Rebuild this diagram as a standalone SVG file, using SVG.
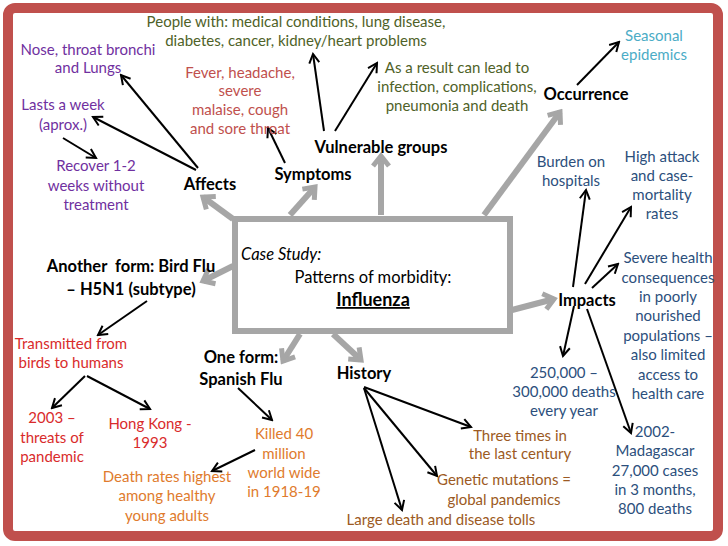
<svg xmlns="http://www.w3.org/2000/svg" width="728" height="546" viewBox="0 0 728 546">
<style>
text{font-family:Lato,"Open Sans","Liberation Sans",sans-serif;font-size:15px;text-anchor:middle}
.b{font-weight:bold;font-size:16.5px;fill:#000}
.ol{fill:#4f6228}.pu{fill:#7030a0}.sy{fill:#c0504d}.lb{fill:#4bacc6}.db{fill:#2c4f7c}.rd{fill:#d92b2b}.or{fill:#e07b2d}.br{fill:#9c5a23}
.k{stroke:#000;stroke-width:2;fill:none;marker-end:url(#ak)}
.g{stroke:#a6a6a6;stroke-width:6;fill:none;marker-end:url(#ag)}
</style>
<defs>
<marker id="ak" markerUnits="userSpaceOnUse" viewBox="-12 -8 14 16" markerWidth="14" markerHeight="16" refX="0" refY="0" orient="auto"><path d="M-9,-5 L0,0 L-9,5" fill="none" stroke="#000" stroke-width="2"/></marker>
<marker id="ag" markerUnits="userSpaceOnUse" viewBox="-16 -12 20 24" markerWidth="20" markerHeight="24" refX="0" refY="0" orient="auto"><path d="M-10,-8 L0,0 L-10,8" fill="none" stroke="#a6a6a6" stroke-width="5"/></marker>
</defs>
<rect x="0" y="0" width="728" height="546" fill="#fff"/>
<rect x="8" y="8" width="710" height="528" rx="7" fill="#fff" stroke="#c0504d" stroke-width="10"/>
<g id="connectors">
<path class="g" d="M233,219 L203,197"/>
<path class="g" d="M290,215 L315,187"/>
<path class="g" d="M381,215 L381,156"/>
<path class="g" d="M484,215 L560,112"/>
<path class="g" d="M233,266 L203,281"/>
<path class="g" d="M300,334 L283,361"/>
<path class="g" d="M333,334 L361,360"/>
<path class="g" d="M512,310 L554,299"/>
<path class="k" d="M198,168 L121,75"/>
<path class="k" d="M196,170 L93,117"/>
<path class="k" d="M63,138 L96,158"/>
<path class="k" d="M285,163 L268,128"/>
<path class="k" d="M324,131 L313,54"/>
<path class="k" d="M335,131 L377,63"/>
<path class="k" d="M577,85 L619,42"/>
<path class="k" d="M573,287 L586,190"/>
<path class="k" d="M585,284 L631,207"/>
<path class="k" d="M592,288 L618,264"/>
<path class="k" d="M574,306 L563,356"/>
<path class="k" d="M587,309 L631,433"/>
<path class="k" d="M147,301 L98,335"/>
<path class="k" d="M85,376 L52,408"/>
<path class="k" d="M87,376 L150,409"/>
<path class="k" d="M238,388 L272,420"/>
<path class="k" d="M255,450 L212,471"/>
<path class="k" d="M364,387 L471,427"/>
<path class="k" d="M364,388 L437,476"/>
<path class="k" d="M364,388 L402,510"/>
</g>
<g id="center">
<rect x="235" y="219" width="275" height="112" fill="#fff" stroke="#a6a6a6" stroke-width="6"/>
<text x="241" y="260" style="text-anchor:start;font-style:italic;font-size:16.5px">Case Study:</text>
<text x="373" y="283" style="font-size:16.5px">Patterns of morbidity:</text>
<text x="373" y="306" style="font-size:18px;font-weight:bold;text-decoration:underline">Influenza</text>
</g>
<g id="people"><text class="ol" x="296" y="27">People with: medical conditions, lung disease,</text><text class="ol" x="296" y="46">diabetes, cancer, kidney/heart problems</text></g>
<g id="nose"><text class="pu" x="88" y="55">Nose, throat bronchi</text><text class="pu" x="88" y="73">and Lungs</text></g>
<g id="fever"><text class="sy" x="240" y="78">Fever, headache,</text><text class="sy" x="240" y="96">severe</text><text class="sy" x="240" y="115">malaise, cough</text><text class="sy" x="240" y="134">and sore throat</text></g>
<g id="result"><text class="ol" x="457" y="73">As a result can lead to</text><text class="ol" x="457" y="92">infection, complications,</text><text class="ol" x="457" y="111">pneumonia and death</text></g>
<g id="occurrence"><text class="b" x="586" y="100">Occurrence</text></g>
<g id="seasonal"><text class="lb" x="654" y="41">Seasonal</text><text class="lb" x="654" y="60">epidemics</text></g>
<g id="lasts"><text class="pu" x="63" y="110">Lasts a week</text><text class="pu" x="63" y="130">(aprox.)</text></g>
<g id="recover"><text class="pu" x="96" y="171">Recover 1-2</text><text class="pu" x="96" y="191">weeks without</text><text class="pu" x="96" y="210">treatment</text></g>
<g id="affects"><text class="b" x="210" y="190">Affects</text></g>
<g id="symptoms"><text class="b" x="313" y="180">Symptoms</text></g>
<g id="vulnerable"><text class="b" x="381" y="153">Vulnerable groups</text></g>
<g id="burden"><text class="db" x="571" y="167">Burden on</text><text class="db" x="571" y="186">hospitals</text></g>
<g id="attack"><text class="db" x="662" y="162">High attack</text><text class="db" x="662" y="181">and case-</text><text class="db" x="662" y="200">mortality</text><text class="db" x="662" y="219">rates</text></g>
<g id="severe"><text class="db" x="668" y="263">Severe health</text><text class="db" x="668" y="283">consequences</text><text class="db" x="668" y="302">in poorly</text><text class="db" x="668" y="321">nourished</text><text class="db" x="668" y="341">populations –</text><text class="db" x="668" y="360">also limited</text><text class="db" x="668" y="380">access to</text><text class="db" x="668" y="399">health care</text></g>
<g id="impacts"><text class="b" x="587" y="306">Impacts</text></g>
<g id="birdflu"><text class="b" x="131" y="272" xml:space="preserve">Another  form: Bird Flu</text><text class="b" x="131" y="295">– H5N1 (subtype)</text></g>
<g id="transmitted"><text class="rd" x="71" y="349">Transmitted from</text><text class="rd" x="71" y="368">birds to humans</text></g>
<g id="spanish"><text class="b" x="241" y="363">One form:</text><text class="b" x="241" y="385">Spanish Flu</text></g>
<g id="history"><text class="b" x="364" y="379">History</text></g>
<g id="deaths"><text class="db" x="564" y="378">250,000 –</text><text class="db" x="564" y="397">300,000 deaths</text><text class="db" x="564" y="416">every year</text></g>
<g id="y2003"><text class="rd" x="52" y="423">2003 –</text><text class="rd" x="52" y="443">threats of</text><text class="rd" x="52" y="462">pandemic</text></g>
<g id="hongkong"><text class="rd" x="150" y="429">Hong Kong -</text><text class="rd" x="150" y="448">1993</text></g>
<g id="killed"><text class="or" x="284" y="439">Killed 40</text><text class="or" x="284" y="459">million</text><text class="or" x="284" y="478">world wide</text><text class="or" x="284" y="497">in 1918-19</text></g>
<g id="deathrates"><text class="or" x="167" y="482">Death rates highest</text><text class="or" x="167" y="501">among healthy</text><text class="or" x="167" y="521">young adults</text></g>
<g id="three"><text class="br" x="520" y="441">Three times in</text><text class="br" x="520" y="459">the last century</text></g>
<g id="madagascar"><text class="db" x="655" y="437">2002-</text><text class="db" x="655" y="456">Madagascar</text><text class="db" x="655" y="476">27,000 cases</text><text class="db" x="655" y="495">in 3 months,</text><text class="db" x="655" y="514">800 deaths</text></g>
<g id="genetic"><text class="br" x="504" y="485">Genetic mutations =</text><text class="br" x="504" y="505">global pandemics</text></g>
<g id="large"><text class="br" x="441" y="525">Large death and disease tolls</text></g>
</svg>
